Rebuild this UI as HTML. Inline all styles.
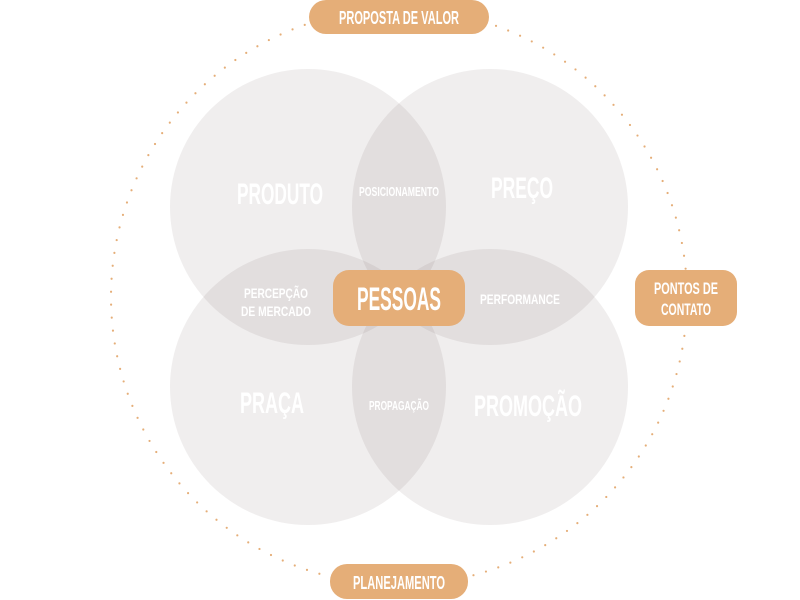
<!DOCTYPE html>
<html><head><meta charset="utf-8"><style>
html,body{margin:0;padding:0;background:#fff;}
svg{display:block}
text{font-family:"Liberation Sans Narrow","Liberation Sans",sans-serif;fill:#fff;text-anchor:middle;font-weight:bold;}
</style></head><body>
<svg width="800" height="600" viewBox="0 0 800 600">
<circle cx="399" cy="297" r="288" fill="none" stroke="#e5ae78" stroke-width="2.2" stroke-linecap="round" stroke-dasharray="0 13"/>
<g fill="#6b5a55" fill-opacity="0.1">
<circle cx="308" cy="207" r="138"/>
<circle cx="490" cy="207" r="138"/>
<circle cx="308" cy="387" r="138"/>
<circle cx="490" cy="387" r="138"/>
</g>
<text x="280" y="204" font-size="30" textLength="86" lengthAdjust="spacingAndGlyphs">PRODUTO</text>
<text x="522" y="198" font-size="30" textLength="62" lengthAdjust="spacingAndGlyphs">PREÇO</text>
<text x="272" y="413" font-size="30" textLength="64" lengthAdjust="spacingAndGlyphs">PRAÇA</text>
<text x="528" y="416" font-size="30" textLength="108" lengthAdjust="spacingAndGlyphs">PROMOÇÃO</text>
<text x="399" y="196" font-size="13" textLength="80" lengthAdjust="spacingAndGlyphs">POSICIONAMENTO</text>
<text x="276" y="298" font-size="14" textLength="64" lengthAdjust="spacingAndGlyphs">PERCEPÇÃO</text>
<text x="276" y="316" font-size="14" textLength="70" lengthAdjust="spacingAndGlyphs">DE MERCADO</text>
<text x="520" y="304" font-size="14" textLength="80" lengthAdjust="spacingAndGlyphs">PERFORMANCE</text>
<text x="399" y="410" font-size="13" textLength="60" lengthAdjust="spacingAndGlyphs">PROPAGAÇÃO</text>
<rect x="333" y="270" width="132" height="56" rx="16" fill="#e5ae78"/>
<text x="399" y="310" font-size="32" textLength="84" lengthAdjust="spacingAndGlyphs">PESSOAS</text>
<rect x="309" y="0" width="180" height="34" rx="17" fill="#e5ae78"/>
<text x="399" y="24" font-size="18" textLength="120" lengthAdjust="spacingAndGlyphs">PROPOSTA DE VALOR</text>
<rect x="330" y="564" width="138" height="35" rx="17" fill="#e5ae78"/>
<text x="399" y="589" font-size="18" textLength="92" lengthAdjust="spacingAndGlyphs">PLANEJAMENTO</text>
<rect x="635" y="270" width="102" height="56" rx="14" fill="#e5ae78"/>
<text x="686" y="294" font-size="17" textLength="64" lengthAdjust="spacingAndGlyphs">PONTOS DE</text>
<text x="686" y="315" font-size="17" textLength="50" lengthAdjust="spacingAndGlyphs">CONTATO</text>
</svg>
</body></html>
